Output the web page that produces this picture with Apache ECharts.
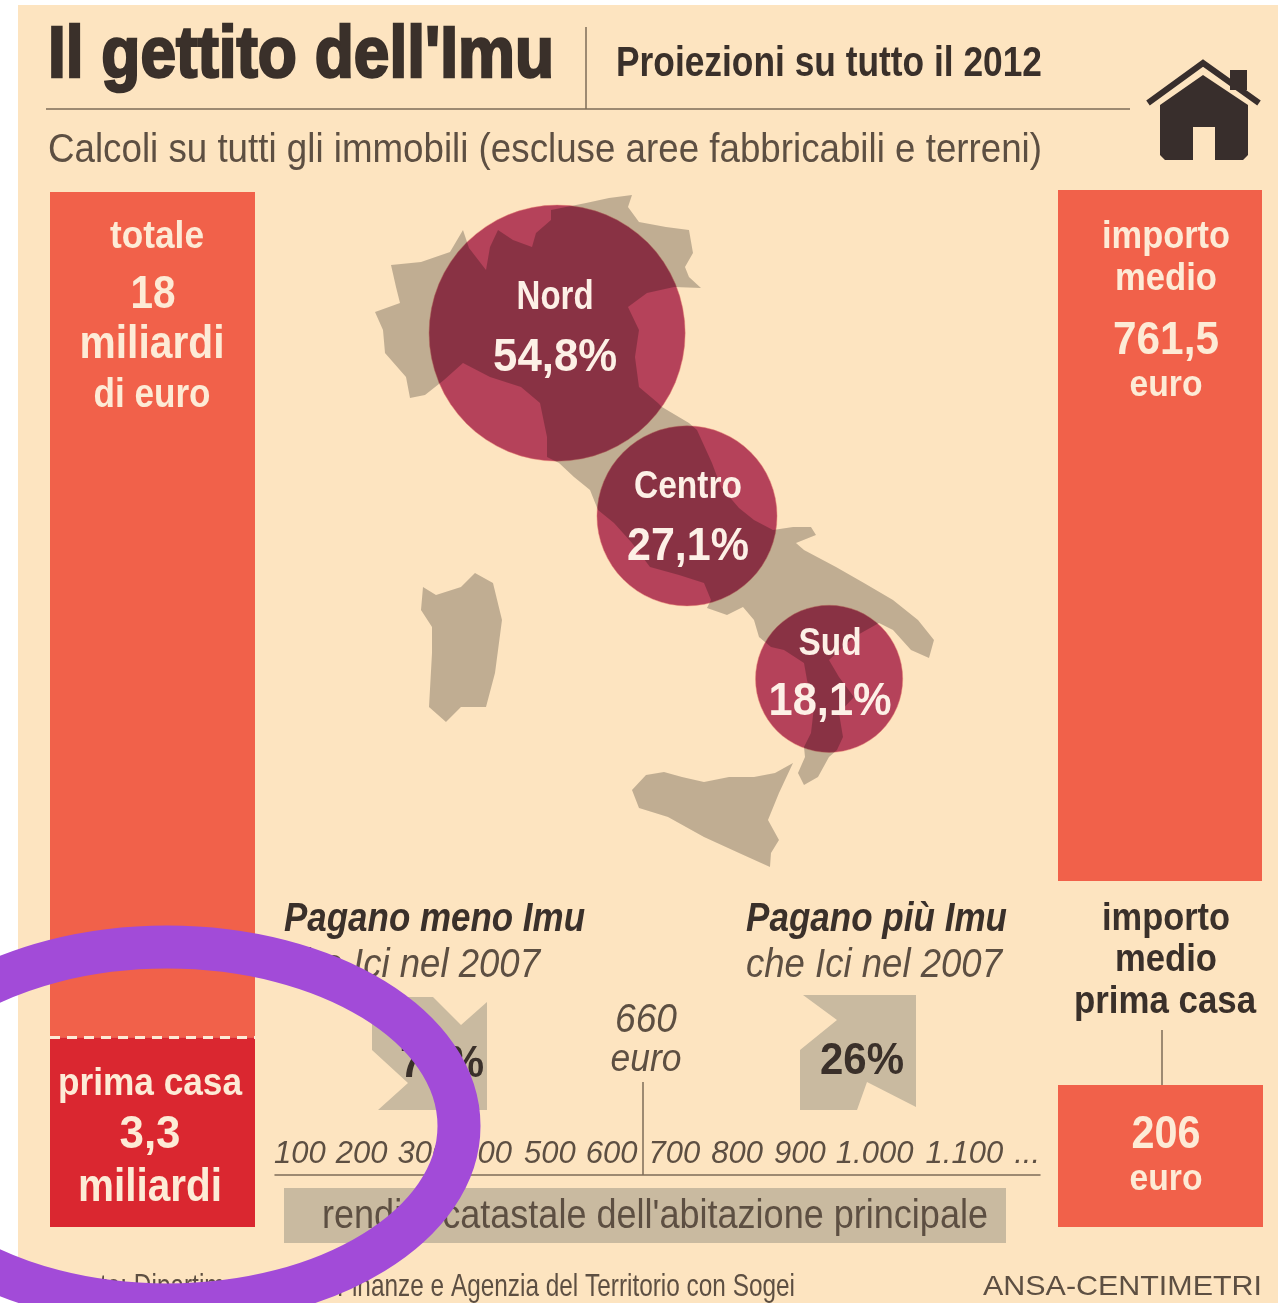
<!DOCTYPE html>
<html><head><meta charset="utf-8">
<style>html,body{margin:0;padding:0;background:#fff}#c{width:1278px;height:1303px}</style>
<script src="https://cdn.jsdelivr.net/npm/echarts@6/dist/echarts.min.js"></script>
</head><body><div id="c"></div>
<script>
// ---- data ----
const totalBillions = 18;
const primaCasaBillions = 3.3;
const averageAmount = 761.5;
const averagePrimaCasa = 206;
const areaNames = ['Nord', 'Centro', 'Sud'];
const areaShares = [54.8, 27.1, 18.1];
const areaLon = [10.47, 13.23, 16.25];
const areaLat = [44.97, 42.11, 39.56];
const payLess = 74;
const payMore = 26;
const renditaTicks = ['100','200','300','400','500','600','700','800','900','1.000','1.100','...'];
// Outlines (picture units, converted to lon/lat below)
const outlineMainland = [[463,230],[450,252],[421,262],[391,265],[396,287],[400,303],[375,312],[383,330],[385,353],[406,377],[410,398],[425,395],[444,380],[463,363],[490,377],[521,387],[540,403],[547,437],[547,457],[559,463],[574,477],[590,490],[598,510],[614,523],[632,543],[650,567],[679,575],[704,583],[711,600],[707,608],[727,615],[743,607],[754,620],[759,637],[771,647],[784,650],[804,663],[807,680],[814,707],[811,733],[804,747],[805,757],[798,773],[804,785],[818,777],[829,757],[837,750],[843,737],[839,713],[854,697],[839,677],[829,660],[854,637],[879,623],[893,630],[911,650],[929,658],[934,640],[918,620],[893,600],[864,583],[836,567],[804,550],[796,543],[816,535],[811,527],[793,527],[773,530],[754,520],[739,508],[721,487],[712,463],[697,430],[689,423],[662,407],[658,403],[639,387],[635,357],[639,330],[628,307],[647,293],[674,287],[701,288],[689,277],[685,267],[693,253],[689,230],[666,227],[639,222],[628,207],[632,195],[609,198],[586,203],[551,210],[551,220],[536,233],[532,247],[513,240],[498,230],[490,247],[486,270],[469,248]];
const outlineSardegna = [[423,587],[421,610],[432,627],[432,653],[429,707],[446,722],[461,707],[486,707],[495,673],[502,620],[493,583],[475,573],[461,587],[436,595]];
const outlineSicilia = [[632,790],[639,808],[668,817],[704,837],[739,853],[770,867],[771,853],[779,840],[768,820],[779,793],[793,763],[775,773],[754,777],[729,777],[704,782],[682,777],[664,772],[646,775]];

const it = n => String(n).replace('.', ',');
const toLonLat = ([x, y]) => [6.6 + (x - 375) / 47.06, 47.1 - (y - 197) / 63.9];
const ring = pts => { const r = pts.map(toLonLat); r.push(r[0]); return [r]; };
echarts.registerMap('italia', { type: 'FeatureCollection', features: [
  { type: 'Feature', properties: { name: 'Italia' }, geometry: { type: 'MultiPolygon',
    coordinates: [ring(outlineMainland), ring(outlineSardegna), ring(outlineSicilia)] } }
]});

const FONT = '"Liberation Sans",Arial,sans-serif';
const DARK = '#3a302a', MID = '#5d4f42', CREAM = '#fdebd6', SAND = '#c9baa0';
const ORANGE = '#f1614a', RED = '#da2730';
const ctx = document.createElement('canvas').getContext('2d');
// text squeezed horizontally to the width it has in the condensed newspaper face
const T = (text, x, y, size, fit, o = {}) => {
  const w = o.w || 'bold', st = o.st || 'normal';
  ctx.font = `${st} ${w} ${size}px ${FONT}`;
  const sx = fit / ctx.measureText(text).width;
  const style = { text, fontFamily: FONT, fontSize: size, fontWeight: w, fontStyle: st,
    fill: o.c || CREAM, align: o.a || 'center', verticalAlign: 'middle' };
  if (o.heavy) { style.stroke = o.c || CREAM; style.lineWidth = o.heavy; }
  return { type: 'text', x, y: y + 2.5, z: o.z || 20, silent: true, scaleX: sx, style };
};
const L = (x1, y1, x2, y2, c = '#7d6c58', w = 1.5) => ({ type: 'line', z: 6, silent: true, shape: { x1, y1, x2, y2 }, style: { stroke: c, lineWidth: w } });
const P = (points, fill) => ({ type: 'polygon', z: 6, silent: true, shape: { points }, style: { fill } });

const graphics = [
  { type: 'rect', z: -10, silent: true, shape: { x: 18, y: 5, width: 1260, height: 1298 }, style: { fill: '#fde4c0' } },
  T("Il gettito dell'Imu", 48, 55, 72, 506, { a: 'left', c: DARK, heavy: 2.5 }),
  T('Proiezioni su tutto il 2012', 616, 62, 42, 426, { a: 'left', c: DARK }),
  T('Calcoli su tutti gli immobili (escluse aree fabbricabili e terreni)', 48, 148, 41, 994, { a: 'left', c: MID, w: 'normal' }),
  L(46, 109, 1130, 109), L(586, 27, 586, 109),
  // house icon
  { type: 'polyline', z: 6, silent: true, shape: { points: [[1148, 103], [1203, 63], [1259, 103]] }, style: { stroke: '#382e2c', lineWidth: 6, fill: 'none' } },
  { type: 'rect', z: 6, silent: true, shape: { x: 1230, y: 70, width: 17, height: 20 }, style: { fill: '#382e2c' } },
  P([[1160, 105], [1203, 75], [1248, 105], [1248, 155], [1243, 160], [1215, 160], [1215, 127], [1193, 127], [1193, 160], [1165, 160], [1160, 155]], '#382e2c'),
  // left column
  T('totale', 157, 235, 38, 94),
  T(String(totalBillions), 153, 293, 46, 45),
  T('miliardi', 152, 343, 46, 145),
  T('di euro', 152, 393, 40, 117),
  T('prima casa', 150, 1082, 38, 184),
  T(it(primaCasaBillions), 150, 1133, 46, 61),
  T('miliardi', 150, 1186, 46, 144),
  // right column
  T('importo', 1166, 235, 38, 128),
  T('medio', 1166, 277, 38, 102),
  T(it(averageAmount), 1166, 339, 46, 106),
  T('euro', 1166, 384, 36, 73),
  T('importo', 1166, 917, 38, 128, { c: DARK }),
  T('medio', 1166, 958, 38, 102, { c: DARK }),
  T('prima casa', 1165, 1000, 38, 182, { c: DARK }),
  L(1162, 1030, 1162, 1085),
  T(String(averagePrimaCasa), 1166, 1133, 46, 69),
  T('euro', 1166, 1178, 36, 73),
  // lower middle block
  P([[372, 997], [433, 997], [461, 1025], [487, 1002], [487, 1110], [378, 1110], [408, 1083], [372, 1050]], SAND),
  P([[803, 995], [916, 995], [916, 1107], [867, 1082], [857, 1110], [800, 1110], [800, 1050], [837, 1020]], SAND),
  T('Pagano meno Imu', 284, 917, 40, 301, { a: 'left', st: 'italic', c: DARK }),
  T('che Ici nel 2007', 284, 963, 40, 256, { a: 'left', st: 'italic', c: MID, w: 'normal' }),
  T('Pagano più Imu', 746, 917, 40, 261, { a: 'left', st: 'italic', c: DARK }),
  T('che Ici nel 2007', 746, 963, 40, 256, { a: 'left', st: 'italic', c: MID, w: 'normal' }),
  T(payLess + '%', 442, 1062, 44, 84, { c: DARK }),
  T(payMore + '%', 862, 1059, 44, 84, { c: DARK }),
  T('660', 646, 1018, 40, 62, { st: 'italic', c: MID, w: 'normal' }),
  T('euro', 646, 1058, 38, 71, { st: 'italic', c: MID, w: 'normal' }),
  L(643, 1082, 643, 1175),
  { type: 'rect', z: 5, silent: true, shape: { x: 284, y: 1188, width: 722, height: 55 }, style: { fill: SAND } },
  T("rendita catastale dell'abitazione principale", 655, 1214, 40, 666, { c: MID, w: 'normal' }),
  T('Fonte: Dipartimento delle Finanze e Agenzia del Territorio con Sogei', 795, 1285, 32, 737, { a: 'right', c: MID, w: 'normal' }),
  T('ANSA-CENTIMETRI', 1262, 1285, 28, 279, { a: 'right', c: MID, w: 'normal' }),
  // purple hand-drawn ring on top of everything
  { type: 'ellipse', z: 100, silent: true, shape: { cx: 167, cy: 1126, rx: 292, ry: 179 }, style: { fill: 'none', stroke: '#a24bd8', lineWidth: 43 } }
];

// small per-label nudges for the unevenly set rendita scale
const nudge = [-7, -9, -11, -12, -12, -14, -15, -16, -17, -6, 20, 19];
const rich = {};
nudge.forEach((n, i) => {
  rich['t' + i] = { fontFamily: FONT, fontSize: 31, fontStyle: 'italic', color: MID,
    padding: n > 0 ? [0, 0, 0, 2 * n] : [0, -2 * n, 0, 0] };
});

const hiddenY = (gridIndex, max) => ({ type: 'value', gridIndex, min: 0, max, show: false });
const hiddenX = gridIndex => ({ type: 'category', gridIndex, data: [''], show: false });
const bubbleData = areaNames.map((n, i) => ({ name: n, value: [areaLon[i], areaLat[i], areaShares[i]] }));
const geoBase = { map: 'italia', silent: true, roam: false, aspectScale: 0.736,
  boundingCoords: [[6.6, 47.1], [18.5, 36.6]], left: 375, top: 197, width: 560, height: 671,
  label: { show: false }, emphasis: { disabled: true } };

const option = {
  animation: false,
  backgroundColor: '#ffffff',
  grid: [
    { left: 50, top: 192, width: 205, height: 1035 },
    { left: 1058, top: 190, width: 204, height: 691 },
    { left: 1058, top: 1085, width: 205, height: 142 },
    { left: 275, top: 1100, width: 765, height: 75 }
  ],
  xAxis: [hiddenX(0), hiddenX(1), hiddenX(2), {
    type: 'category', gridIndex: 3, data: renditaTicks, z: 8,
    axisTick: { show: false },
    axisLine: { lineStyle: { color: '#7d6c58', width: 1.5 } },
    axisLabel: { inside: true, margin: 5, interval: 0, hideOverlap: false,
      formatter: (v, i) => `{t${i}|${v}}`, rich }
  }],
  yAxis: [hiddenY(0, totalBillions), hiddenY(1, averageAmount), hiddenY(2, averagePrimaCasa), hiddenY(3, 1)],
  geo: [
    { ...geoBase, z: 1, itemStyle: { areaColor: 'transparent', borderWidth: 0 } },
    { ...geoBase, z: 5, itemStyle: { areaColor: 'rgba(0,0,0,0.24)', borderWidth: 0 } }
  ],
  series: [
    { type: 'bar', xAxisIndex: 0, yAxisIndex: 0, stack: 'tot', barWidth: '100%', silent: true, z: 2,
      itemStyle: { color: RED }, data: [primaCasaBillions],
      markLine: { silent: true, symbol: 'none', label: { show: false }, z: 4,
        lineStyle: { color: '#fdebd6', type: [10, 7], width: 3 }, data: [{ yAxis: primaCasaBillions }] } },
    { type: 'bar', xAxisIndex: 0, yAxisIndex: 0, stack: 'tot', barWidth: '100%', silent: true, z: 2,
      itemStyle: { color: ORANGE }, data: [totalBillions - primaCasaBillions] },
    { type: 'bar', xAxisIndex: 1, yAxisIndex: 1, barWidth: '100%', silent: true, z: 2,
      itemStyle: { color: ORANGE }, data: [averageAmount] },
    { type: 'bar', xAxisIndex: 2, yAxisIndex: 2, barWidth: '100%', silent: true, z: 2,
      itemStyle: { color: ORANGE }, data: [averagePrimaCasa] },
    { type: 'scatter', coordinateSystem: 'geo', geoIndex: 0, silent: true, z: 3,
      symbolSize: v => Math.sqrt(v[2]) * 34.6,
      itemStyle: { color: '#b5425a', borderColor: 'rgba(235,130,115,0.45)', borderWidth: 1, opacity: 1 },
      data: bubbleData }
  ]
};
const chart = echarts.init(document.getElementById('c'));
chart.setOption(option);

// bubble captions follow the bubbles' own geo position
const captionStyle = [
  { dx: -2, dyN: -38, dyV: 23, fitN: 77, fitV: 124, sizeN: 40, sizeV: 46 },
  { dx: 1, dyN: -31, dyV: 29, fitN: 108, fitV: 122, sizeN: 38, sizeV: 46 },
  { dx: 1, dyN: -37, dyV: 21, fitN: 63, fitV: 123, sizeN: 38, sizeV: 46 }
];
const captions = [];
areaNames.forEach((n, i) => {
  const [px, py] = chart.convertToPixel({ geoIndex: 0 }, [areaLon[i], areaLat[i]]);
  const s = captionStyle[i];
  captions.push(T(n, px + s.dx, py + s.dyN, s.sizeN, s.fitN, { c: '#fdf0e6', z: 30 }));
  captions.push(T(it(areaShares[i]) + '%', px + s.dx, py + s.dyV, s.sizeV, s.fitV, { c: '#fdf0e6', z: 30 }));
});
chart.setOption({ graphic: { elements: graphics.concat(captions) } });
</script></body></html>
